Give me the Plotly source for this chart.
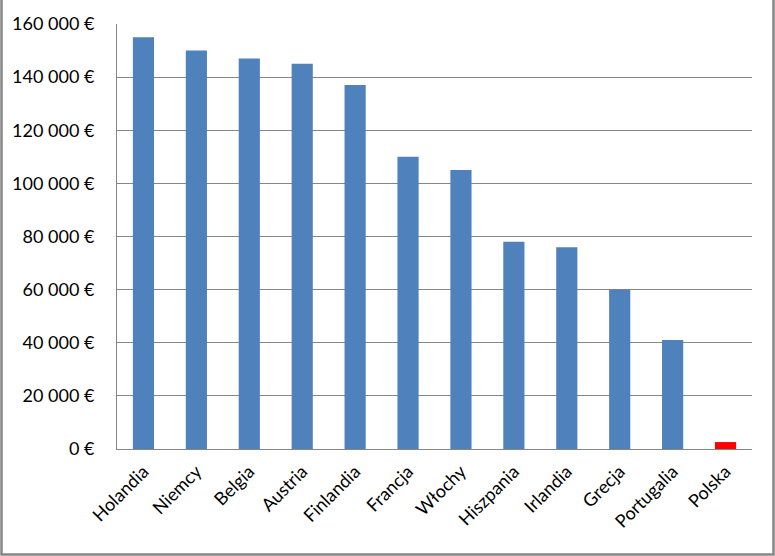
import plotly.graph_objects as go

# kraje i wartości (EUR)
kraje = ['Holandia', 'Niemcy', 'Belgia', 'Austria', 'Finlandia', 'Francja',
         'Włochy', 'Hiszpania', 'Irlandia', 'Grecja', 'Portugalia', 'Polska']
wartosci = [155000, 150000, 147000, 145000, 137000, 110000,
            105000, 78000, 76000, 60000, 41000, 2600]
y_ticks = [0, 20000, 40000, 60000, 80000, 100000, 120000, 140000, 160000]

kolory = ['#FF0000' if k == 'Polska' else '#4F81BD' for k in kraje]
tick_text = ['{:,}'.format(v).replace(',', ' ') + ' €' for v in y_ticks]

W, H = 775, 556
L, R, T, B = 117, 23, 24, 107
pw, ph = W - L - R, H - T - B

fig = go.Figure()
fig.add_trace(go.Bar(x=kraje, y=wartosci, marker=dict(color=kolory, line=dict(width=0)),
                     showlegend=False, hoverinfo='x+y'))

fig.update_layout(
    width=W, height=H,
    margin=dict(l=L, r=R, t=T, b=B),
    paper_bgcolor='white', plot_bgcolor='white',
    bargap=0.6,
    font=dict(family='Lato, Noto Sans, sans-serif', size=18, color='#000000'),
    xaxis=dict(showgrid=False, showline=True, linecolor='#868686', linewidth=1,
               tickangle=-45, ticks='', ticklabelstandoff=4),
    yaxis=dict(range=[0, 160000], tickvals=y_ticks, ticktext=tick_text,
               showgrid=True, gridcolor='#868686', gridwidth=1,
               showline=True, linecolor='#868686', linewidth=1,
               ticks='', ticklabelstandoff=18, zeroline=False),
)

# ramka wykresu
fig.add_shape(type='rect', xref='paper', yref='paper',
              x0=(1.5 - L) / pw, x1=(W - 1.5 - L) / pw,
              y0=-(B - 1.5) / ph, y1=(H - T - 1.5) / ph,
              line=dict(color='#868686', width=2.5), layer='above')

# bez marginesu strony
fig.write_html("out.html", config={'displayModeBar': False},
               post_script="document.body.style.margin='0';")
